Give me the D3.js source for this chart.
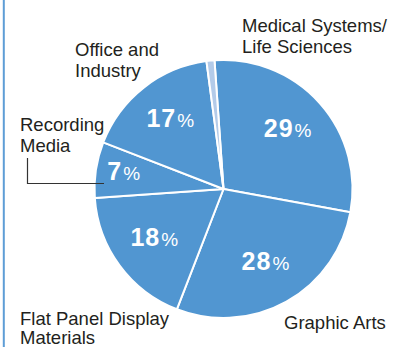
<!DOCTYPE html>
<html>
<head>
<meta charset="utf-8">
<script src="https://cdn.jsdelivr.net/npm/d3@7/dist/d3.min.js"></script>
<style>
  html, body { margin: 0; padding: 0; background: #fff; }
  svg { display: block; }
</style>
</head>
<body>
<div id="chart"></div>
<script>
// Net sales share by business segment, clockwise from the top
const categories = ["", "Graphic Arts", "Flat Panel Display Materials", "Recording Media", "Office and Industry", "Medical Systems/Life Sciences"];
const values = [29, 28, 18, 7, 17, 1];

// Outside name labels (lines) and where they sit
const nameLines = [
  ["Graphic Arts"],
  ["Flat Panel Display", "Materials"],
  ["Recording", "Media"],
  ["Office and", "Industry"],
  ["Medical Systems/", "Life Sciences"]
];
const namePos = [[284, 329], [20, 324.5], [20, 131], [75, 56], [242, 31.5]];
const lineGap = [20.5, 19.5, 20.5, 20.5, 21];

const W = 394, H = 347;
const cx = 223.5, cy = 189, R = 129;
const offset = -4 * Math.PI / 180;

const svg = d3.select("#chart").append("svg")
  .attr("width", W).attr("height", H);

// left rule
svg.append("line")
  .attr("x1", 3.8).attr("x2", 3.8).attr("y1", 0).attr("y2", H)
  .attr("stroke", "#5e9dd6").attr("stroke-width", 2);

const data = categories.map((c, i) => ({ name: c, value: values[i] }));

const pie = d3.pie().sort(null).value(d => d.value)
  .startAngle(offset).endAngle(offset + 2 * Math.PI);
const arcs = pie(data);

const arc = d3.arc().innerRadius(0).outerRadius(R);
const color = d => d.data.value < 5 ? "#b3cbe9" : "#5196d1";

const g = svg.append("g").attr("transform", `translate(${cx},${cy})`);

g.selectAll("path.slice")
  .data(arcs)
  .join("path")
  .attr("class", "slice")
  .attr("d", arc)
  .attr("fill", color)
  .attr("stroke", "#fff")
  .attr("stroke-width", 2)
  .attr("stroke-linejoin", "round");

// percentage labels inside slices
const labelArc = d => {
  const r = d.data.value < 10 ? 101 : 86;
  return d3.arc().innerRadius(r).outerRadius(r).centroid(d);
};

const pct = g.selectAll("text.pct")
  .data(arcs.filter(d => d.data.value >= 5))
  .join("text")
  .attr("class", "pct")
  .attr("transform", d => `translate(${labelArc(d)})`)
  .attr("text-anchor", "middle")
  .attr("dy", "0.36em")
  .attr("fill", "#fff")
  .style("font-family", "'Liberation Sans', Arial, Helvetica, sans-serif");

pct.append("tspan")
  .attr("font-size", 25).attr("font-weight", "bold")
  .attr("letter-spacing", 1)
  .text(d => d.data.value);
pct.append("tspan")
  .attr("font-size", 19).attr("font-weight", "normal")
  .attr("dx", 1)
  .text("%");

// outside names
const names = svg.selectAll("text.name")
  .data(nameLines)
  .join("text")
  .attr("class", "name")
  .attr("x", (d, i) => namePos[i][0])
  .attr("y", (d, i) => namePos[i][1])
  .attr("fill", "#231f20")
  .attr("font-size", 18.5)
  .style("font-family", "'Liberation Sans', Arial, Helvetica, sans-serif");

names.selectAll("tspan")
  .data((d, i) => d.map(t => ({ t, x: namePos[i][0], gap: lineGap[i] })))
  .join("tspan")
  .attr("x", d => d.x)
  .attr("dy", (d, j) => j === 0 ? 0 : d.gap)
  .text(d => d.t);

// leader from "Recording Media" to its slice
svg.append("path")
  .attr("d", d3.line()([[27.5, 158], [27.5, 183.5], [104, 183.5]]))
  .attr("fill", "none")
  .attr("stroke", "#333")
  .attr("stroke-width", 1.2);
</script>
</body>
</html>
